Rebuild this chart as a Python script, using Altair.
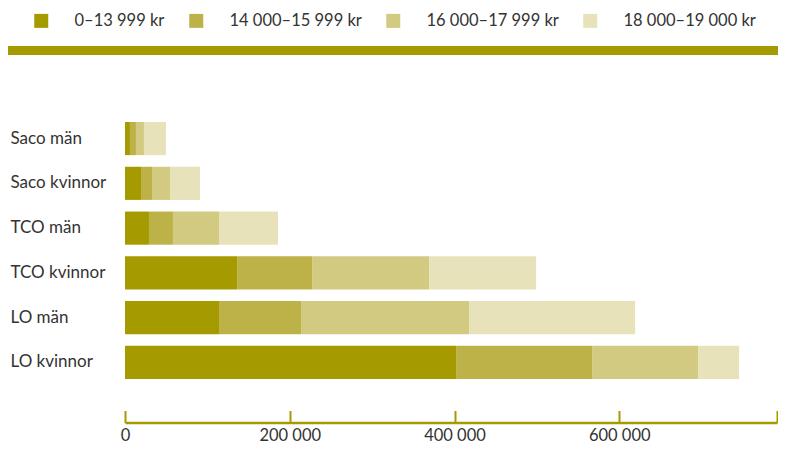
import altair as alt
import pandas as pd

groups = ["Saco män", "Saco kvinnor", "TCO män", "TCO kvinnor", "LO män", "LO kvinnor"]
categories = ["0–13 999 kr", "14 000–15 999 kr", "16 000–17 999 kr", "18 000–19 000 kr"]
colors = ["#a59a00", "#bdb248", "#d3ca82", "#e7e2ba"]

v_0_13999 = [6000, 19400, 29100, 136100, 114100, 401900]
v_14000_15999 = [7300, 13400, 29100, 91000, 99600, 165100]
v_16000_17999 = [9700, 21900, 55900, 142100, 204000, 128700]
v_18000_19000 = [26700, 36400, 71600, 129900, 201600, 49800]

label_values = [0, 200000, 400000, 600000]
axis_end = 791500  # axis closes with a tick at its right end
tick_values = label_values + [axis_end]

series = [v_0_13999, v_14000_15999, v_16000_17999, v_18000_19000]
rows = []
for i, g in enumerate(groups):
    for j, c in enumerate(categories):
        rows.append({"group": g, "category": c, "order": j, "value": series[j][i]})
df = pd.DataFrame(rows)

FONT = "Lato"
TEXT = "#333333"
OLIVE = "#a59a00"

x_scale = alt.Scale(domain=[0, axis_end], nice=False, zero=True)

band = alt.Chart(pd.DataFrame({"k": [0]})).mark_rule(color=OLIVE, strokeWidth=9).encode(
    x=alt.value(-117), x2=alt.value(653), y=alt.value(-24)
)

bars = alt.Chart(df).mark_bar().encode(
    x=alt.X(
        "value:Q",
        stack="zero",
        scale=x_scale,
        axis=alt.Axis(
            orient="bottom",
            values=label_values,
            labelExpr="replace(format(datum.value, ','), ',', ' ')",
            title=None,
            grid=False,
            ticks=False,
            domain=True,
            domainColor=OLIVE,
            domainWidth=2.5,
            labelPadding=5,
            labelFlush=False,
            labelFont=FONT,
            labelFontSize=16.5,
            labelColor=TEXT,
        ),
    ),
    y=alt.Y(
        "group:N",
        sort=groups,
        scale=alt.Scale(paddingInner=0.26, paddingOuter=0, range=[47.5, 304.5]),
        axis=alt.Axis(
            title=None,
            domain=False,
            ticks=False,
            labelAlign="left",
            labelPadding=115,
            labelFont=FONT,
            labelFontSize=17,
            labelColor=TEXT,
        ),
    ),
    color=alt.Color(
        "category:N",
        scale=alt.Scale(domain=categories, range=colors),
        legend=alt.Legend(
            title=None,
            orient="none",
            legendX=-92,
            legendY=-62,
            direction="horizontal",
            columns=4,
            symbolType="square",
            symbolSize=196,
            symbolStrokeWidth=0,
            symbolOpacity=1,
            labelOffset=25,
            columnPadding=23,
            labelFont=FONT,
            labelFontSize=16.5,
            labelColor=TEXT,
        ),
    ),
    order=alt.Order("order:Q"),
)

ticks = alt.Chart(pd.DataFrame({"t": tick_values})).mark_point(opacity=0, size=0).encode(
    x=alt.X(
        "t:Q",
        scale=x_scale,
        axis=alt.Axis(
            orient="bottom",
            offset=-12,
            values=tick_values,
            domain=False,
            ticks=True,
            tickSize=12,
            tickWidth=2,
            tickColor=OLIVE,
            labels=False,
            title=None,
            grid=False,
        ),
    )
)

chart = (
    alt.layer(band, bars, ticks)
    .resolve_scale(x="shared")
    .resolve_axis(x="independent")
    .properties(
        width=652,
        height=348,
        padding={"left": 117, "top": 66.5, "right": 1, "bottom": 24},
        autosize=alt.AutoSizeParams(type="none"),
    )
    .configure_view(stroke=None)
)

chart.save("out.html", embed_options={"renderer": "svg", "actions": False})
